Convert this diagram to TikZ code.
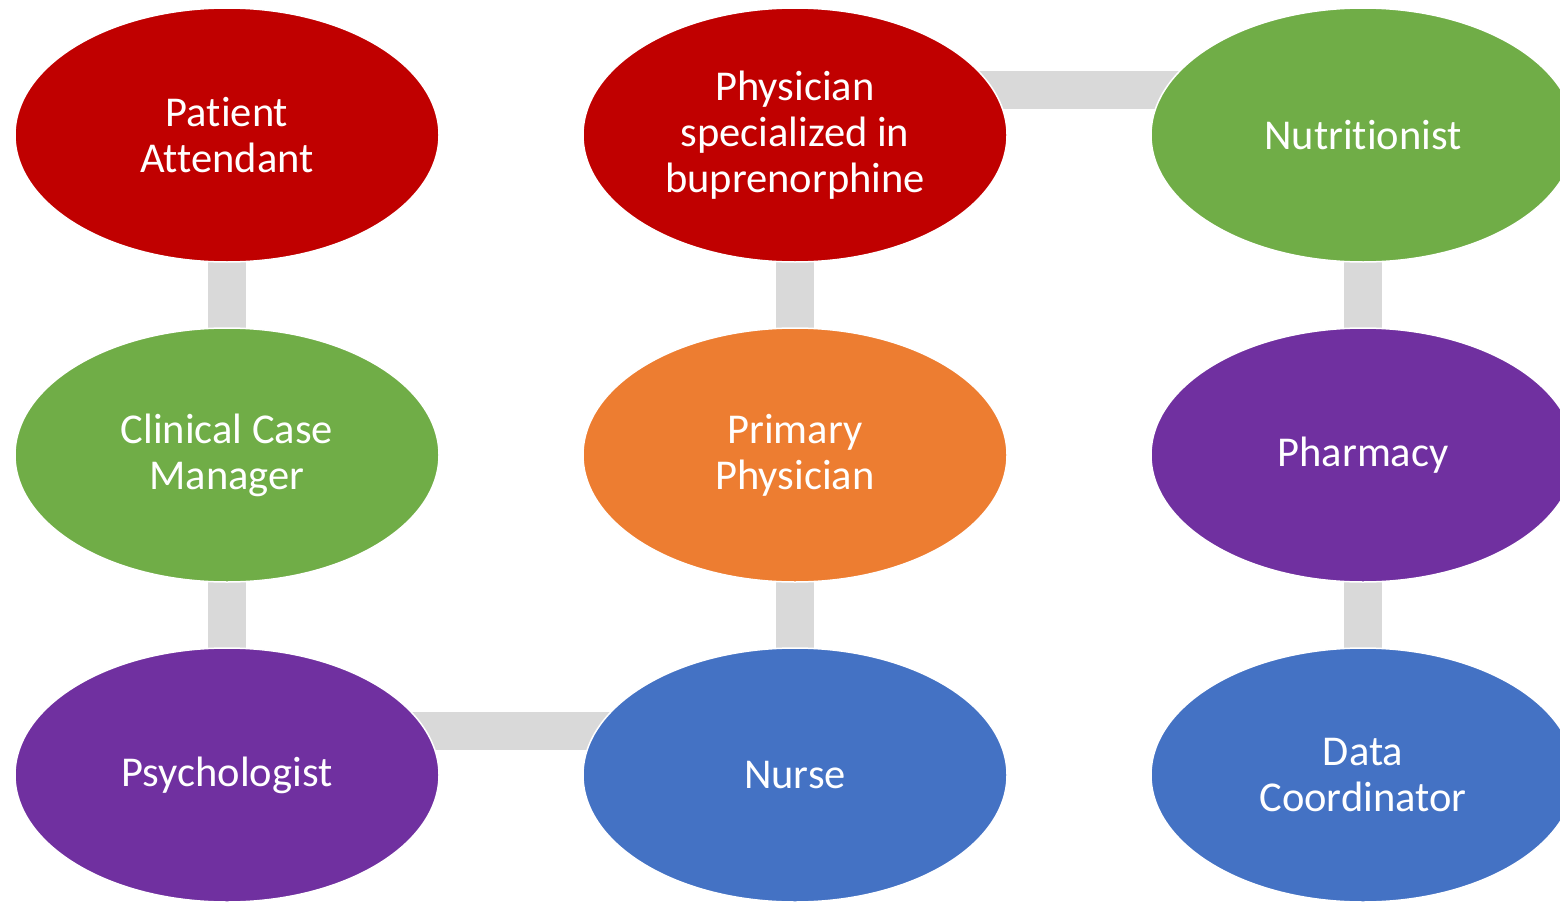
\documentclass[tikz,border=0pt]{standalone}
\usepackage{fontspec}
\setmainfont[Ligatures={NoCommon,NoContextual,NoRare,NoRequired}]{Carlito}
\usetikzlibrary{shapes.geometric,backgrounds}
\definecolor{cred}{HTML}{C00000}
\definecolor{cgreen}{HTML}{70AD47}
\definecolor{corange}{HTML}{ED7D31}
\definecolor{cpurple}{HTML}{7030A0}
\definecolor{cblue}{HTML}{4472C4}
\definecolor{cgrey}{HTML}{D9D9D9}
\tikzset{
  role/.style={ellipse, minimum width=424pt, minimum height=254pt, inner sep=0pt,
    draw=white, line width=1.5pt, text=white, align=center,
    font=\fontsize{42.5}{46}\selectfont},
  conn/.style={draw=cgrey, line width=38pt}
}
\begin{document}
\begin{tikzpicture}[x=1pt,y=1pt]
\useasboundingbox (0,0) rectangle (1560,-902);
\clip (0,0) rectangle (1560,-902);
\node[role, fill=cred] (pa) at (227,-135) {Patient\\Attendant};
\node[role, fill=cred] (ps) at (795,-135) {Physician\\specialized in\\buprenorphine};
\node[role, fill=cgreen] (nu) at (1363,-135) {Nutritionist};
\node[role, fill=cgreen] (cm) at (227,-455) {Clinical Case\\Manager};
\node[role, fill=corange] (pp) at (795,-455) {Primary\\Physician};
\node[role, fill=cpurple] (ph) at (1363,-455) {Pharmacy};
\node[role, fill=cpurple] (py) at (227,-775) {Psychologist};
\node[role, fill=cblue] (ns) at (795,-775) {Nurse};
\node[role, fill=cblue] (dc) at (1363,-775) {Data\\Coordinator};
\begin{scope}[on background layer]
\fill[white] (0,0) rectangle (1560,-902);
\draw[conn] (pa.center) -- (cm.center);
\draw[conn] (cm.center) -- (py.center);
\draw[conn] (ps.center) -- (pp.center);
\draw[conn] (pp.center) -- (ns.center);
\draw[conn] (nu.center) -- (ph.center);
\draw[conn] (ph.center) -- (dc.center);
\draw[conn] ([yshift=45pt]ps.center) -- ([yshift=45pt]nu.center);
\draw[conn] ([yshift=44pt]py.center) -- ([yshift=44pt]ns.center);
\end{scope}
\end{tikzpicture}
\end{document}
